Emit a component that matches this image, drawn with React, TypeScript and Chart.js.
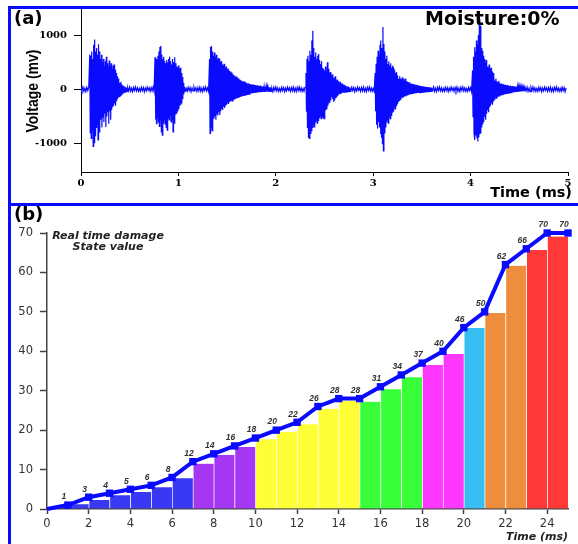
import React, { useEffect, useRef } from "react";
import { Chart, registerables } from "chart.js";
Chart.register(...registerables);

// ---------- Panel (a): acoustic signal ----------
const aXTicks = [0, 1, 2, 3, 4, 5];
const aYTicks = [-1000, 0, 1000];
const aStep = 0.01; // ms between envelope readings
const aEnd = 4.98;
const burstStarts = [0.09, 0.76, 1.32, 2.31, 3.02, 4.02];
const burst1Pos = [640, 620, 700, 560, 820, 920, 700, 760, 640, 830, 700, 560, 640, 500, 560, 430, 520, 600, 480, 420, 530, 440, 480, 380, 440, 460, 360, 300, 240, 200, 160, 120, 140, 90, 70, 60, 50, 40, 30];
const burst1Neg = [800, 900, 760, 1050, 980, 850, 700, 640, 930, 780, 620, 560, 700, 520, 600, 450, 690, 500, 420, 630, 400, 560, 380, 330, 300, 260, 300, 220, 180, 150, 130, 110, 90, 70, 60, 50, 45, 40, 30];
const burst2Pos = [590, 480, 560, 620, 700, 780, 800, 640, 560, 600, 520, 480, 540, 500, 560, 600, 520, 460, 560, 500, 590, 480, 420, 400, 440, 380, 400, 300, 230, 120, 50];
const burst2Neg = [560, 630, 520, 600, 680, 560, 780, 840, 620, 560, 640, 700, 750, 520, 560, 480, 600, 560, 780, 620, 500, 460, 440, 400, 360, 300, 280, 260, 180, 90, 40];
const burst3Pos = [560, 780, 800, 700, 620, 680, 600, 640, 540, 580, 560, 500, 520, 460, 440, 470, 400, 420, 370, 380, 340, 330, 300, 310, 280, 260, 250, 230, 240, 210, 200, 180, 170, 160, 150, 140, 150, 130, 120, 110, 115, 100, 95, 90, 85, 90, 80, 75, 70, 75, 65, 60, 70, 55, 50, 55, 45, 50, 40, 45, 40, 35, 40, 35];
const burst3Neg = [810, 700, 760, 600, 540, 500, 560, 460, 480, 420, 470, 400, 360, 380, 320, 340, 300, 280, 260, 270, 230, 220, 200, 210, 180, 170, 160, 150, 140, 145, 130, 120, 125, 110, 110, 100, 105, 95, 90, 85, 80, 85, 75, 70, 70, 65, 60, 65, 55, 55, 50, 50, 45, 50, 45, 40, 45, 40, 40, 35, 40, 35, 35, 30];
const burst4Pos = [300, 560, 620, 520, 710, 640, 900, 1080, 760, 600, 680, 560, 620, 650, 540, 470, 520, 400, 380, 350, 420, 330, 500, 380, 300, 320, 260, 280, 220, 200, 240, 165, 180, 150, 120, 140, 100, 110, 90, 70, 80, 60, 50, 60, 40, 40];
const burst4Neg = [400, 700, 880, 900, 810, 760, 700, 650, 690, 600, 560, 620, 570, 520, 480, 540, 500, 520, 540, 420, 385, 360, 300, 260, 240, 200, 140, 180, 230, 200, 160, 150, 120, 100, 80, 90, 70, 60, 60, 50, 50, 45, 40, 40, 35, 35];
const burst5Pos = [300, 470, 600, 710, 640, 820, 900, 760, 1150, 835, 700, 560, 620, 470, 520, 440, 480, 400, 440, 410, 360, 300, 320, 260, 195, 240, 200, 180, 225, 190, 160, 200, 150, 140, 120, 130, 100, 110, 95, 100, 90, 80, 85, 75, 70, 75, 65, 60, 60, 55, 55, 50, 50, 45, 45, 40, 40, 35, 35];
const burst5Neg = [400, 650, 720, 600, 700, 820, 880, 1000, 1130, 800, 690, 600, 560, 620, 500, 540, 480, 420, 400, 320, 360, 300, 260, 220, 200, 170, 190, 150, 160, 140, 120, 130, 110, 110, 100, 95, 90, 90, 85, 80, 75, 70, 70, 65, 60, 60, 55, 55, 50, 50, 45, 45, 40, 40, 40, 35, 35, 30, 30];
const burst6Pos = [350, 600, 775, 700, 900, 820, 1000, 1290, 1170, 760, 710, 620, 560, 500, 540, 420, 410, 460, 380, 400, 330, 300, 250, 165, 200, 150, 130, 160, 120, 100, 110, 90, 100, 80, 85, 75, 80, 70, 65, 70, 60, 60, 55, 55, 50, 50, 45, 45, 40, 40, 40, 35, 35, 30];
const burst6Neg = [500, 800, 930, 850, 900, 960, 880, 820, 810, 700, 640, 600, 505, 560, 450, 385, 420, 330, 300, 260, 280, 220, 180, 140, 160, 130, 110, 120, 100, 90, 95, 85, 80, 80, 75, 70, 70, 65, 60, 60, 55, 55, 50, 50, 45, 45, 40, 40, 40, 35, 35, 30, 30, 30];
const baselineNoise = [34, -28, 42, -36, 22, -40, 38, -20, 46, -30, 28, -38, 18, -34, 40, -22, 36, -42, 26, -28, 44, -18, 30, -36];

// ---------- Panel (b): damage state ----------
const damageTimes = [0, 1, 2, 3, 4, 5, 6, 7, 8, 9, 10, 11, 12, 13, 14, 15, 16, 17, 18, 19, 20, 21, 22, 23, 24, 25];
const damageValues = [0, 1, 3, 4, 5, 6, 8, 12, 14, 16, 18, 20, 22, 26, 28, 28, 31, 34, 37, 40, 46, 50, 62, 66, 70, 70];
const barStarts = [1, 2, 3, 4, 5, 6, 7, 8, 9, 10, 11, 12, 13, 14, 15, 16, 17, 18, 19, 20, 21, 22, 23, 24];
const barHeights = [1.2, 2.3, 3.5, 4.3, 5.5, 7.8, 11.5, 13.7, 15.7, 17.7, 19.6, 21.5, 25.4, 27.4, 27.2, 30.4, 33.4, 36.5, 39.3, 45.9, 49.7, 61.7, 65.7, 69.1];
const barColors = [
  "#3838f5", "#3838f5", "#3838f5", "#3838f5", "#3838f5", "#3838f5",
  "#a536f2", "#a536f2", "#a536f2",
  "#ffff38", "#ffff38", "#ffff38", "#ffff38", "#ffff38",
  "#38ff38", "#38ff38", "#38ff38",
  "#ff38ff", "#ff38ff",
  "#38bef2",
  "#ee8d3e", "#ee8d3e",
  "#ff3838", "#ff3838",
];
const bXTicks = [0, 2, 4, 6, 8, 10, 12, 14, 16, 18, 20, 22, 24];
const bYTicks = [0, 10, 20, 30, 40, 50, 60, 70];

const BLUE = "#0a0aff";

type TextItem = {
  text: string; x: number; y: number; font: string; color: string;
  align: CanvasTextAlign; rotate?: boolean; sy?: number;
};

function textPlugin(id: string, items: TextItem[]) {
  return {
    id,
    afterDraw(chart: any) {
      const ctx = chart.ctx as CanvasRenderingContext2D;
      items.forEach((it) => {
        ctx.save();
        ctx.font = it.font;
        ctx.fillStyle = it.color;
        ctx.textAlign = it.align;
        ctx.textBaseline = "middle";
        ctx.translate(it.x, it.y);
        if (it.rotate) ctx.rotate(-Math.PI / 2);
        if (it.sy) ctx.scale(1, it.sy);
        ctx.fillText(it.text, 0, 0);
        ctx.restore();
      });
    },
  };
}

function buildWave() {
  const bursts = [
    { start: burstStarts[0], pos: burst1Pos, neg: burst1Neg },
    { start: burstStarts[1], pos: burst2Pos, neg: burst2Neg },
    { start: burstStarts[2], pos: burst3Pos, neg: burst3Neg },
    { start: burstStarts[3], pos: burst4Pos, neg: burst4Neg },
    { start: burstStarts[4], pos: burst5Pos, neg: burst5Neg },
    { start: burstStarts[5], pos: burst6Pos, neg: burst6Neg },
  ].map((b) => ({ ...b, k0: Math.round(b.start / aStep), len: Math.min(b.pos.length, b.neg.length) }));
  const pts: { x: number; y: number }[] = [];
  const n = Math.round(aEnd / aStep);
  for (let k = 0; k <= n; k++) {
    const t = k * aStep;
    const b = bursts.find((bb) => k >= bb.k0 && k < bb.k0 + bb.len);
    if (b) {
      const j = k - b.k0;
      pts.push({ x: t, y: b.pos[j] });
      pts.push({ x: t + aStep / 2, y: -b.neg[j] });
    } else {
      pts.push({ x: t, y: baselineNoise[k % baselineNoise.length] });
    }
  }
  return pts;
}

export default function App() {
  const refA = useRef<HTMLCanvasElement>(null);
  const refB = useRef<HTMLCanvasElement>(null);

  useEffect(() => {
    const serifTick = { family: "DejaVu Serif", size: 10, weight: "bold" as const };
    const chartA = new Chart(refA.current!, {
      type: "line",
      data: {
        datasets: [
          {
            data: buildWave(),
            borderColor: BLUE,
            borderWidth: 1.2,
            pointRadius: 0,
            tension: 0,
            fill: false,
          },
        ],
      },
      options: {
        animation: false,
        responsive: false,
        parsing: false,
        normalized: true,
        events: [],
        layout: { padding: { left: 0, right: 10, top: 0, bottom: 0 } },
        plugins: { legend: { display: false }, tooltip: { enabled: false } },
        scales: {
          x: {
            type: "linear",
            min: 0,
            max: 5,
            grid: { drawOnChartArea: false, tickLength: 4, color: "#000" },
            border: { color: "#000", width: 1 },
            ticks: { font: serifTick, color: "#000", padding: 1, maxRotation: 0, callback: (v: any) => String(v) },
            afterBuildTicks: (s: any) => { s.ticks = aXTicks.map((v) => ({ value: v })); },
            afterFit: (s: any) => { s.height = 31; s.paddingLeft = 0; s.paddingRight = 0; },
          },
          y: {
            type: "linear",
            min: -1520,
            max: 1480,
            grid: { drawOnChartArea: false, tickLength: 7, color: "#000" },
            border: { color: "#000", width: 1 },
            ticks: { font: serifTick, color: "#000", padding: 7, callback: (v: any) => String(v) },
            afterBuildTicks: (s: any) => { s.ticks = aYTicks.map((v) => ({ value: v })); },
            afterFit: (s: any) => { s.width = 70; s.paddingTop = 0; s.paddingBottom = 0; },
          },
        },
      } as any,
      plugins: [
        textPlugin("textsA", [
          { text: "(a)", x: 3, y: 10.5, font: 'bold 18px "DejaVu Sans"', color: "#000", align: "left" },
          { text: "Moisture:0%", x: 414, y: 11, font: 'bold 19px "DejaVu Sans"', color: "#000", align: "left" },
          { text: "Time (ms)", x: 561, y: 184, font: 'bold 14.5px "DejaVu Sans"', color: "#000", align: "right" },
          { text: "Voltage (mv)", x: 22.5, y: 82, font: 'bold 14px "Liberation Sans"', color: "#000", align: "center", rotate: true, sy: 1.2 },
        ]),
      ],
    });

    const pointLabels = {
      id: "pointLabels",
      afterDatasetsDraw(chart: any) {
        const ctx = chart.ctx as CanvasRenderingContext2D;
        const meta = chart.getDatasetMeta(0);
        ctx.save();
        ctx.font = 'italic bold 8.5px "Liberation Sans"';
        ctx.fillStyle = "#333";
        ctx.textAlign = "center";
        ctx.textBaseline = "middle";
        meta.data.forEach((pt: any, i: number) => {
          if (i === 0) return;
          ctx.fillText(String(damageValues[i]), pt.x - 4, pt.y - 8);
        });
        ctx.restore();
      },
    };

    const sansTick = { family: "DejaVu Sans", size: 11.5 };
    const chartB = new Chart(refB.current!, {
      type: "bar",
      data: {
        datasets: [
          {
            type: "line",
            data: damageTimes.map((t, i) => ({ x: t, y: damageValues[i] })),
            borderColor: BLUE,
            backgroundColor: BLUE,
            borderWidth: 4,
            pointStyle: "rect",
            pointRadius: damageTimes.map((_, i) => (i === 0 ? 0 : 5.2)),
            pointBorderWidth: 0,
            pointBackgroundColor: BLUE,
            tension: 0,
            order: 0,
            clip: false,
          } as any,
          {
            type: "bar",
            data: barStarts.map((s, i) => ({ x: s + 0.5, y: barHeights[i] })),
            backgroundColor: barColors,
            borderColor: "rgba(255,255,255,0.3)",
            borderWidth: { left: 1, right: 0, top: 0, bottom: 0 },
            borderSkipped: false,
            barPercentage: 1,
            categoryPercentage: 1,
            order: 1,
          } as any,
        ],
      },
      options: {
        animation: false,
        responsive: false,
        events: [],
        layout: { padding: { left: 0, right: 10, top: 27, bottom: 0 } },
        plugins: { legend: { display: false }, tooltip: { enabled: false } },
        scales: {
          x: {
            type: "linear",
            min: 0,
            max: 25,
            offset: false,
            grid: { offset: false, drawOnChartArea: false, tickLength: 5, color: "#444", tickWidth: 1.5 },
            border: { color: "#444", width: 1.5 },
            ticks: { font: sansTick, color: "#333", padding: 3, maxRotation: 0, autoSkip: false, callback: (v: any) => String(v) },
            afterBuildTicks: (s: any) => { s.ticks = bXTicks.map((v) => ({ value: v })); },
            afterFit: (s: any) => { s.height = 35; s.paddingLeft = 0; s.paddingRight = 0; },
          },
          y: {
            type: "linear",
            min: 0,
            max: 70,
            grid: { drawOnChartArea: false, tickLength: 7, color: "#444", tickWidth: 1.5 },
            border: { color: "#444", width: 1.5 },
            ticks: { font: sansTick, color: "#333", padding: 7, callback: (v: any) => String(v) },
            afterBuildTicks: (s: any) => { s.ticks = bYTicks.map((v) => ({ value: v })); },
            afterFit: (s: any) => { s.width = 36; s.paddingTop = 0; s.paddingBottom = 0; },
          },
        },
      } as any,
      plugins: [
        pointLabels,
        textPlugin("textsB", [
          { text: "(b)", x: 3, y: 9.5, font: 'bold 18px "DejaVu Sans"', color: "#000", align: "left" },
          { text: "Real time damage", x: 97, y: 30, font: 'italic bold 11px "DejaVu Sans"', color: "#222", align: "center" },
          { text: "State value", x: 97, y: 41, font: 'italic bold 11px "DejaVu Sans"', color: "#222", align: "center" },
          { text: "Time (ms)", x: 557, y: 331, font: 'italic bold 11px "DejaVu Sans"', color: "#222", align: "right" },
        ]),
      ],
    });

    return () => {
      chartA.destroy();
      chartB.destroy();
    };
  }, []);

  return (
    <div style={{ position: "absolute", left: 0, top: 0, width: 578, height: 544, background: "#fff", overflow: "hidden" }}>
      <canvas ref={refA} width={567} height={194} style={{ position: "absolute", left: 11, top: 9, width: 567, height: 194 }} />
      <canvas ref={refB} width={567} height={338} style={{ position: "absolute", left: 11, top: 206, width: 567, height: 338 }} />
      <div style={{ position: "absolute", left: 8, top: 6, width: 3, height: 538, background: BLUE }} />
      <div style={{ position: "absolute", left: 8, top: 6, width: 570, height: 2.5, background: BLUE }} />
      <div style={{ position: "absolute", left: 8, top: 203, width: 570, height: 3, background: BLUE }} />
    </div>
  );
}
